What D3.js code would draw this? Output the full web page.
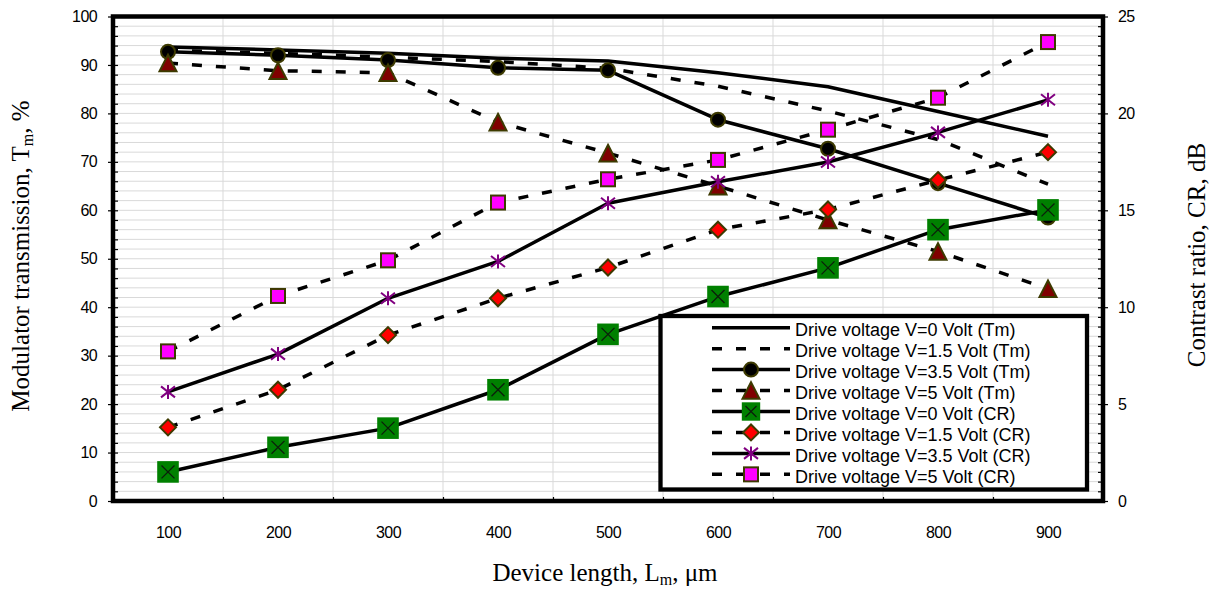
<!DOCTYPE html>
<html>
<head>
<meta charset="utf-8">
<script src="https://cdn.jsdelivr.net/npm/d3@7"></script>
<style>
  body { margin: 0; background: #fff; }
  svg text { font-family: "Liberation Sans", Arial, sans-serif; fill: #000; }
  .axis-title { font-family: "Liberation Serif", "Times New Roman", serif !important; font-size: 25px; }
</style>
</head>
<body>
<svg id="chart" width="1213" height="589"></svg>
<script>
// device length categories (um)
const lengths = [100, 200, 300, 400, 500, 600, 700, 800, 900];

// modulator transmission Tm, % (left axis)
const tmV0 = [93.7, 93.1, 92.4, 91.4, 90.8, 88.4, 85.5, 80.4, 75.3];
const tmV15 = [93.0, 92.4, 91.6, 90.7, 89.3, 85.6, 80.5, 74.6, 65.4];
const tmV35 = [92.7, 92.0, 91.0, 89.4, 88.9, 78.7, 72.7, 65.6, 58.5];
const tmV5 = [90.4, 88.8, 88.4, 78.2, 71.8, 65.0, 58.0, 51.5, 43.8];

// contrast ratio CR, dB (right axis)
const crV0 = [1.5, 2.77, 3.76, 5.74, 8.6, 10.55, 12.03, 14.0, 15.02];
const crV15 = [3.8, 5.74, 8.56, 10.46, 12.05, 14.0, 15.04, 16.56, 18.0];
const crV35 = [5.63, 7.58, 10.46, 12.36, 15.36, 16.47, 17.49, 19.02, 20.7];
const crV5 = [7.72, 10.58, 12.42, 15.4, 16.6, 17.6, 19.16, 20.81, 23.68];

const leftTicks = [0, 10, 20, 30, 40, 50, 60, 70, 80, 90, 100];
const rightTicks = [0, 5, 10, 15, 20, 25];

const seriesNames = [
  "Drive voltage V=0 Volt (Tm)",
  "Drive voltage V=1.5 Volt (Tm)",
  "Drive voltage V=3.5 Volt (Tm)",
  "Drive voltage V=5 Volt (Tm)",
  "Drive voltage V=0 Volt (CR)",
  "Drive voltage V=1.5 Volt (CR)",
  "Drive voltage V=3.5 Volt (CR)",
  "Drive voltage V=5 Volt (CR)",
];

const series = [
  { values: tmV0, axis: "left", dashed: false, marker: null },
  { values: tmV15, axis: "left", dashed: true, marker: null },
  { values: tmV35, axis: "left", dashed: false, marker: "circle" },
  { values: tmV5, axis: "left", dashed: true, marker: "triangle" },
  { values: crV0, axis: "right", dashed: false, marker: "xsquare" },
  { values: crV15, axis: "right", dashed: true, marker: "diamond" },
  { values: crV35, axis: "right", dashed: false, marker: "star" },
  { values: crV5, axis: "right", dashed: true, marker: "square" },
].map((s, i) => ({ ...s, name: seriesNames[i] }));

const svg = d3.select("#chart");
const plot = { left: 113, right: 1103, top: 16.5, bottom: 501 };
const olive = "#3d3a00";
const dash = "10,14";

const xBand = d3.scaleBand().domain(lengths).range([plot.left, plot.right]);
const x = d3.scalePoint().domain(lengths).range([plot.left, plot.right]).padding(0.5);
const yL = d3.scaleLinear().domain([0, 100]).range([plot.bottom, plot.top]);
const yR = d3.scaleLinear().domain([0, 25]).range([plot.bottom, plot.top]);

// gridlines
const grid = svg.append("g").attr("class", "grid");
grid
  .selectAll("line.h")
  .data(d3.range(2, 100, 2))
  .join("line")
  .attr("class", "h")
  .attr("x1", plot.left)
  .attr("x2", plot.right)
  .attr("y1", (d) => yL(d))
  .attr("y2", (d) => yL(d))
  .attr("stroke", "#d9d9d9")
  .attr("stroke-width", 1);
grid
  .selectAll("line.v")
  .data(lengths.slice(1))
  .join("line")
  .attr("class", "v")
  .attr("x1", (d) => xBand(d))
  .attr("x2", (d) => xBand(d))
  .attr("y1", plot.top)
  .attr("y2", plot.bottom)
  .attr("stroke", "#d9d9d9")
  .attr("stroke-width", 1);

// axes
const leftAxis = svg
  .append("g")
  .attr("transform", `translate(${plot.left},0)`)
  .call(d3.axisLeft(yL).tickValues(leftTicks).tickSize(5).tickPadding(11));
svg
  .append("g")
  .attr("transform", `translate(${plot.left},0)`)
  .call(d3.axisRight(yL).tickValues(d3.range(0, 100, 2)).tickSize(5).tickFormat(""));

const rightAxis = svg
  .append("g")
  .attr("transform", `translate(${plot.right},0)`)
  .call(d3.axisRight(yR).tickValues(rightTicks).tickSize(5).tickPadding(10));
svg
  .append("g")
  .attr("transform", `translate(${plot.right},0)`)
  .call(d3.axisLeft(yR).tickValues(d3.range(0, 25, 0.5)).tickSize(5).tickFormat(""));

const bottomAxis = svg
  .append("g")
  .attr("transform", `translate(0,${plot.bottom})`)
  .call(d3.axisBottom(x).tickSize(0).tickPadding(31));
svg
  .append("g")
  .attr("transform", `translate(0,${plot.bottom})`)
  .call(
    d3
      .axisTop(d3.scaleLinear().domain([plot.left, plot.right]).range([plot.left, plot.right]))
      .tickValues(lengths.slice(1).map((d) => xBand(d)))
      .tickSize(4)
      .tickFormat("")
  );

svg.selectAll(".domain").remove();
svg.selectAll(".tick line").attr("stroke", "#000").attr("stroke-width", 1.2);
[leftAxis, rightAxis, bottomAxis].forEach((a) =>
  a.selectAll("text").style("font-size", "16px").style("letter-spacing", "-0.6px").attr("fill", "#000")
);
bottomAxis.selectAll("text").attr("dy", "0.35em");

// plot frame
svg
  .append("rect")
  .attr("x", plot.left)
  .attr("y", plot.top)
  .attr("width", plot.right - plot.left)
  .attr("height", plot.bottom - plot.top)
  .attr("fill", "none")
  .attr("stroke", "#000")
  .attr("stroke-width", 4.5);

function addMarker(g, type, big) {
  if (type === "circle") {
    g.append("circle").attr("r", 7).attr("fill", "#000").attr("stroke", olive).attr("stroke-width", 2);
  } else if (type === "triangle") {
    g.append("path")
      .attr("d", "M0,-8.3L8.5,8.3L-8.5,8.3Z")
      .attr("fill", "#800000")
      .attr("stroke", olive)
      .attr("stroke-width", 2);
  } else if (type === "xsquare") {
    const h = big ? 10.8 : 9.2;
    g.append("rect")
      .attr("x", -h)
      .attr("y", -h)
      .attr("width", h * 2)
      .attr("height", h * 2)
      .attr("fill", "#008000");
    const k = h * 0.6;
    g.append("path")
      .attr("d", `M${-k},${-k}L${k},${k}M${-k},${k}L${k},${-k}`)
      .attr("stroke", "#0b1f0b")
      .attr("stroke-width", 1.3);
  } else if (type === "diamond") {
    g.append("path")
      .attr("d", "M0,-8L8,0L0,8L-8,0Z")
      .attr("fill", "#ff0000")
      .attr("stroke", olive)
      .attr("stroke-width", 2);
  } else if (type === "star") {
    g.append("path")
      .attr("d", "M0,-7V7M-7,-5.5L7,5.5M-7,5.5L7,-5.5")
      .attr("stroke", "#800080")
      .attr("stroke-width", 2)
      .attr("fill", "none");
  } else if (type === "square") {
    g.append("rect")
      .attr("x", -7)
      .attr("y", -7)
      .attr("width", 14)
      .attr("height", 14)
      .attr("fill", "#ff00ff")
      .attr("stroke", olive)
      .attr("stroke-width", 2);
  }
}

// series
const lineGen = d3.line();
const area = svg.append("g").attr("class", "series");
series.forEach((s) => {
  const y = s.axis === "left" ? yL : yR;
  const pts = s.values.map((v, i) => [x(lengths[i]), y(v)]);
  const g = area.append("g");
  g.append("path")
    .attr("d", lineGen(pts))
    .attr("fill", "none")
    .attr("stroke", "#000")
    .attr("stroke-width", 3.5)
    .attr("stroke-linejoin", "round")
    .attr("stroke-dasharray", s.dashed ? dash : null);
  if (s.marker) {
    g.selectAll("g.m")
      .data(pts)
      .join("g")
      .attr("class", "m")
      .attr("transform", (d) => `translate(${d[0]},${d[1]})`)
      .each(function () {
        addMarker(d3.select(this), s.marker, true);
      });
  }
});

// legend
const legend = svg.append("g").attr("class", "legend");
legend
  .append("rect")
  .attr("x", 660.5)
  .attr("y", 316)
  .attr("width", 426.5)
  .attr("height", 173.5)
  .attr("fill", "#fff")
  .attr("stroke", "#000")
  .attr("stroke-width", 4.3);
const rows = legend
  .selectAll("g.row")
  .data(series)
  .join("g")
  .attr("class", "row")
  .attr("transform", (d, i) => `translate(0,${336 + i * 20.95})`);
rows
  .append("line")
  .attr("x1", 712)
  .attr("x2", 790)
  .attr("y1", -8.3)
  .attr("y2", -8.3)
  .attr("stroke", "#000")
  .attr("stroke-width", 3.5)
  .attr("stroke-dasharray", (d) => (d.dashed ? dash : null));
rows.each(function (d) {
  if (d.marker) {
    const m = d3.select(this).append("g").attr("transform", "translate(751,-8.3)");
    addMarker(m, d.marker, false);
  }
});
rows
  .append("text")
  .attr("x", 795)
  .attr("y", 0)
  .style("font-size", "18px")
  .text((d) => d.name);

// axis titles
const xTitle = svg
  .append("text")
  .attr("class", "axis-title")
  .attr("x", 605)
  .attr("y", 581)
  .attr("text-anchor", "middle");
xTitle.append("tspan").text("Device length, L");
xTitle.append("tspan").attr("dy", 4).style("font-size", "16px").text("m");
xTitle.append("tspan").attr("dy", -4).text(", \u03bcm");

const yTitle = svg
  .append("text")
  .attr("class", "axis-title")
  .attr("transform", "translate(29,256) rotate(-90)")
  .attr("text-anchor", "middle");
yTitle.append("tspan").text("Modulator transmission, T");
yTitle.append("tspan").attr("dy", 4).style("font-size", "16px").text("m");
yTitle.append("tspan").attr("dy", -4).text(", %");

svg
  .append("text")
  .attr("class", "axis-title")
  .attr("transform", "translate(1205,255) rotate(-90)")
  .attr("text-anchor", "middle")
  .text("Contrast ratio, CR, dB");
</script>
</body>
</html>
